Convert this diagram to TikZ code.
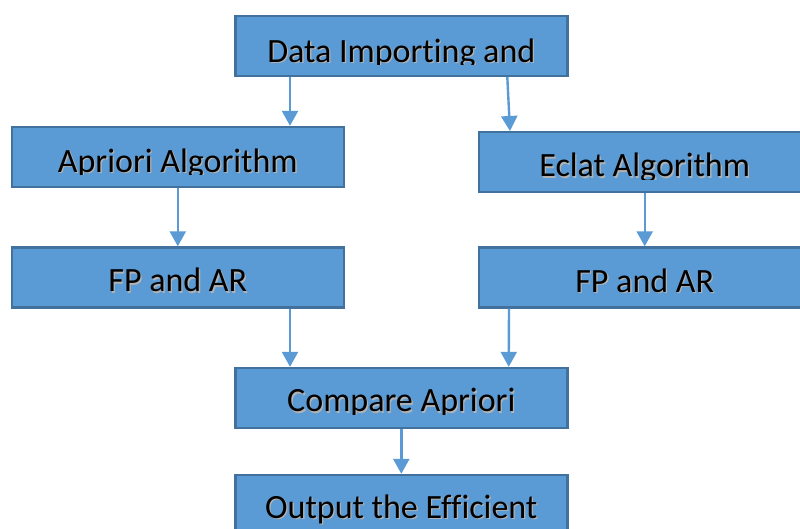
\documentclass[tikz,border=0pt]{standalone}
\usepackage{fontspec}
\setmainfont[Ligatures=NoCommon]{Carlito}
\usetikzlibrary{arrows.meta}
\definecolor{boxfill}{HTML}{5B9BD5}
\definecolor{boxline}{HTML}{41719C}
\definecolor{arrowblue}{HTML}{5B9BD5}
\tikzset{
  stepbox/.style={draw=boxline, fill=boxfill, line width=2.4pt,
    minimum width=332pt, minimum height=60pt, inner sep=0pt},
  caption/.style={font=\fontsize{34}{40}\selectfont, inner sep=0pt,
    anchor=base, text=black},
  textshade/.style={caption, text=black!30},
  flow/.style={draw=arrowblue, line width=2.4pt,
    -{Triangle[width=16pt,length=15pt]}},
}
% clipped label with a soft drop shadow: #1 name, #2 x, #3 baseline y, #4 clip top, #5 clip bottom, #6 text
\newcommand{\steplabel}[6]{%
  \begin{scope}
    \clip (#2-170,#4) rectangle (#2+170,#5);
    \node[textshade] (#1-shade) at (#2+1.3,#3+1.3) {#6};
    \node[caption] (#1-text) at (#2,#3) {#6};
  \end{scope}}
\begin{document}
\begin{tikzpicture}[x=1pt, y=-1pt]
  \clip (0,0) rectangle (800,528);
  \fill[white] (0,0) rectangle (800,528);

  % boxes
  \node[stepbox] (imp) at (401.3,45.7) {};
  \node[stepbox] (apr) at (177.8,157) {};
  \node[stepbox] (ecl) at (644.7,162.2) {};
  \node[stepbox] (fpl) at (177.8,277.5) {};
  \node[stepbox] (fpr) at (644.7,277.5) {};
  \node[stepbox] (cmp) at (401.3,398) {};
  \node[stepbox] (out) at (401.3,505) {};

  % labels
  \steplabel{imp}{401.3}{62}{17}{64.3}{Data Importing and}
  \steplabel{apr}{177.8}{172.3}{128}{174.6}{Apriori Algorithm}
  \steplabel{ecl}{644.7}{176.7}{134}{179.5}{Eclat Algorithm}
  \steplabel{fpl}{177.8}{291.7}{249}{306}{FP and AR}
  \steplabel{fpr}{644.7}{292.2}{249}{306}{FP and AR}
  \steplabel{cmp}{401.3}{411.7}{369}{414.5}{Compare Apriori}
  \steplabel{out}{401.3}{518.3}{476}{528}{Output the Efficient}

  % connectors
  \draw[flow] ([xshift=-111.3pt]imp.south) -- ([xshift=112.2pt]apr.north);
  \draw[flow] ([xshift=106pt]imp.south) -- ([xshift=-134.7pt]ecl.north);
  \draw[flow] (apr.south) -- (fpl.north);
  \draw[flow] (ecl.south) -- (fpr.north);
  \draw[flow] ([xshift=112.2pt]fpl.south) -- ([xshift=-111.3pt]cmp.north);
  \draw[flow] ([xshift=-135.7pt]fpr.south) -- ([xshift=107.4pt]cmp.north);
  \draw[flow] (cmp.south) -- (out.north);
\end{tikzpicture}
\end{document}
